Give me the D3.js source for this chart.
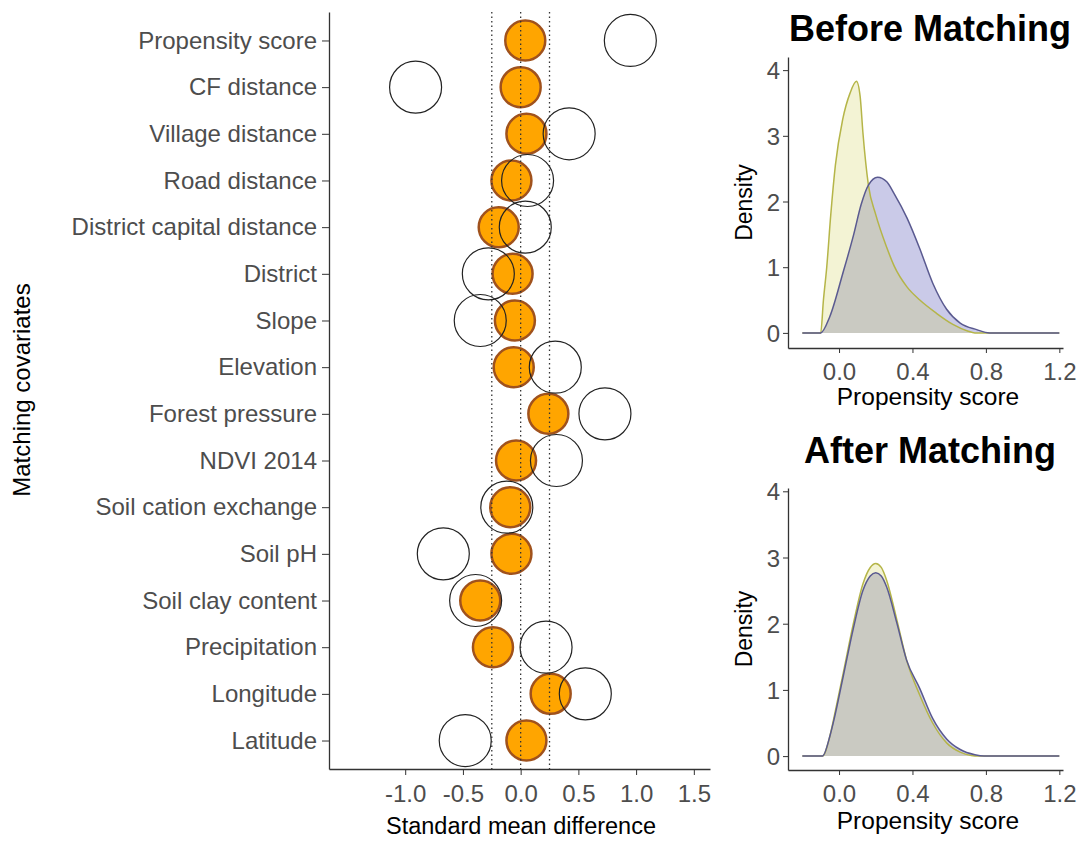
<!DOCTYPE html>
<html>
<head>
<meta charset="utf-8">
<script src="https://cdn.jsdelivr.net/npm/d3@7"></script>
<style>
  body { margin: 0; background: #fff; }
  svg text { font-family: "Liberation Sans", Arial, sans-serif; }
  .tick text { fill: #4d4d4d; }
  .tick line, .domain { stroke: #333; }
</style>
</head>
<body>
<div id="chart"></div>
<script>
// balance plot data (standard mean difference)
var covariates = ["Propensity score", "CF distance", "Village distance", "Road distance",
  "District capital distance", "District", "Slope", "Elevation", "Forest pressure",
  "NDVI 2014", "Soil cation exchange", "Soil pH", "Soil clay content", "Precipitation",
  "Longitude", "Latitude"];
var smdAfter  = [0.04, 0.00, 0.05, -0.08, -0.19, -0.07, -0.05, -0.06, 0.24, -0.04, -0.09, -0.08, -0.35, -0.24, 0.26, 0.05];
var smdBefore = [0.95, -0.91, 0.42, 0.06, 0.04, -0.28, -0.35, 0.30, 0.73, 0.31, -0.12, -0.67, -0.39, 0.22, 0.56, -0.48];
var smdTicks = [-1.0, -0.5, 0.0, 0.5, 1.0, 1.5];
var refLines = [-0.25, 0, 0.25];

// density curves of the propensity score
var beforeCtrlX = [-0.2, -0.1, -0.085, -0.067, -0.045, -0.02, 0.02, 0.06, 0.095, 0.115, 0.13, 0.16, 0.2, 0.26, 0.3, 0.37, 0.44, 0.53, 0.62, 0.7, 0.74, 1.2];
var beforeCtrlY = [0, 0, 0.5, 1.0, 1.8, 2.55, 3.25, 3.65, 3.83, 3.6, 3.05, 2.25, 1.8, 1.3, 1.02, 0.7, 0.5, 0.3, 0.13, 0.03, 0, 0];
var beforeTreatX = [-0.2, -0.1, -0.05, 0.02, 0.08, 0.12, 0.16, 0.21, 0.26, 0.3, 0.37, 0.44, 0.51, 0.586, 0.66, 0.75, 0.82, 1.2];
var beforeTreatY = [0, 0, 0.25, 0.9, 1.5, 1.95, 2.25, 2.37, 2.3, 2.12, 1.75, 1.28, 0.76, 0.36, 0.15, 0.05, 0, 0];
var afterCtrlX = [-0.2, -0.09, -0.05, -0.03, 0.024, 0.078, 0.13, 0.17, 0.2, 0.23, 0.26, 0.314, 0.368, 0.44, 0.51, 0.586, 0.66, 0.72, 0.76, 1.2];
var afterCtrlY = [0, 0, 0.3, 0.55, 1.27, 2.0, 2.6, 2.85, 2.91, 2.85, 2.65, 2.07, 1.45, 0.92, 0.5, 0.2, 0.06, 0.01, 0, 0];
var afterTreatX = [-0.2, -0.09, -0.05, -0.03, 0.024, 0.078, 0.13, 0.17, 0.2, 0.23, 0.26, 0.314, 0.368, 0.44, 0.51, 0.586, 0.66, 0.74, 0.79, 1.2];
var afterTreatY = [0, 0, 0.3, 0.52, 1.22, 1.93, 2.5, 2.72, 2.77, 2.72, 2.55, 2.02, 1.45, 1.02, 0.57, 0.26, 0.1, 0.02, 0, 0];
var psTicks = [0.0, 0.4, 0.8, 1.2];
var densTicks = [0, 1, 2, 3, 4];

// plain hyphen for negatives, like the R output
var fmt1 = d => d3.format(".1f")(d).replace("\u2212", "-");

var svg = d3.select("#chart").append("svg")
    .attr("width", 1080)
    .attr("height", 843);

// ---- left panel ----
var x = d3.scaleLinear().domain([-1.66, 1.64]).range([329, 710]);
var y = d3.scalePoint().domain(covariates).range([12, 769]).padding(0.61);

svg.append("g")
    .attr("transform", "translate(0,769)")
    .call(d3.axisBottom(x).tickValues(smdTicks).tickFormat(fmt1).tickSize(6).tickSizeOuter(0))
    .call(g => g.selectAll("text").attr("font-size", 24).attr("dy", "1.0em"));

svg.append("g")
    .attr("transform", "translate(329,0)")
    .call(d3.axisLeft(y).tickSize(7).tickSizeOuter(0).tickPadding(5))
    .call(g => g.selectAll("text").attr("font-size", 24));

svg.selectAll(".domain").attr("stroke-width", 1.3);

svg.append("text")
    .attr("x", 521).attr("y", 834)
    .attr("text-anchor", "middle")
    .attr("font-size", 23.5)
    .text("Standard mean difference");

svg.append("text")
    .attr("transform", "translate(30,390) rotate(-90)")
    .attr("text-anchor", "middle")
    .attr("font-size", 24)
    .text("Matching covariates");

svg.selectAll("circle.after")
    .data(smdAfter)
  .enter().append("circle")
    .attr("class", "after")
    .attr("cx", d => x(d))
    .attr("cy", (d, i) => y(covariates[i]))
    .attr("r", 20)
    .style("fill", "#ffa500")
    .style("stroke", "#a0521d")
    .style("stroke-width", 2.5);

svg.selectAll("circle.before")
    .data(smdBefore)
  .enter().append("circle")
    .attr("class", "before")
    .attr("cx", d => x(d))
    .attr("cy", (d, i) => y(covariates[i]))
    .attr("r", 26)
    .style("fill", "none")
    .style("stroke", "#222")
    .style("stroke-width", 1.2);

svg.selectAll("line.ref")
    .data(refLines)
  .enter().append("line")
    .attr("class", "ref")
    .attr("x1", d => x(d)).attr("x2", d => x(d))
    .attr("y1", 12).attr("y2", 769)
    .style("stroke", "#333")
    .style("stroke-width", 1.3)
    .style("stroke-dasharray", "1.5,3");

// ---- density panels ----
function densityPanel(title, titleY, yDomain, yRange, ctrlX, ctrlY, treatX, treatY, titleBase) {
  var px = d3.scaleLinear().domain([-0.278, 1.22]).range([788, 1063]);
  var py = d3.scaleLinear().domain(yDomain).range(yRange);
  var g = svg.append("g");

  var area = d3.area().curve(d3.curveMonotoneX)
      .x(d => px(d[0])).y0(py(0)).y1(d => py(d[1]));
  var line = d3.line().curve(d3.curveMonotoneX)
      .x(d => px(d[0])).y(d => py(d[1]));

  var treat = treatX.map((v, i) => [v, treatY[i]]);
  var ctrl = ctrlX.map((v, i) => [v, ctrlY[i]]);

  g.append("path").datum(treat).attr("d", area)
      .style("fill", "rgba(80,80,180,0.3)");
  g.append("path").datum(ctrl).attr("d", area)
      .style("fill", "rgba(205,205,75,0.24)");
  g.append("path").datum(ctrl).attr("d", line)
      .style("fill", "none").style("stroke", "#b5b548").style("stroke-width", 1.5);
  g.append("path").datum(treat).attr("d", line)
      .style("fill", "none").style("stroke", "#5a5a90").style("stroke-width", 1.5);

  g.append("g")
      .attr("transform", "translate(0," + yRange[0] + ")")
      .call(d3.axisBottom(px).tickValues(psTicks).tickFormat(fmt1).tickSize(5).tickSizeOuter(0))
      .call(a => a.selectAll("text").attr("font-size", 24).attr("dy", "1.0em"));
  g.append("g")
      .attr("transform", "translate(788,0)")
      .call(d3.axisLeft(py).tickValues(densTicks).tickFormat(d3.format("d")).tickSize(5).tickSizeOuter(0))
      .call(a => a.selectAll("text").attr("font-size", 24).attr("dy", "0.36em"));
  g.selectAll(".domain").attr("stroke-width", 1.3);

  g.append("text")
      .attr("x", 928).attr("y", titleBase)
      .attr("text-anchor", "middle")
      .attr("font-size", 24.5)
      .text("Propensity score");
  g.append("text")
      .attr("transform", "translate(752," + ((yRange[0] + yRange[1]) / 2) + ") rotate(-90)")
      .attr("text-anchor", "middle")
      .attr("font-size", 23)
      .text("Density");
  g.append("text")
      .attr("x", 930).attr("y", titleY)
      .attr("text-anchor", "middle")
      .attr("font-size", 36)
      .attr("font-weight", "bold")
      .text(title);
}

densityPanel("Before Matching", 41, [-0.23, 4.2], [348, 57], beforeCtrlX, beforeCtrlY, beforeTreatX, beforeTreatY, 405);
densityPanel("After Matching", 463, [-0.21, 4.05], [770, 488], afterCtrlX, afterCtrlY, afterTreatX, afterTreatY, 829);
</script>
</body>
</html>
